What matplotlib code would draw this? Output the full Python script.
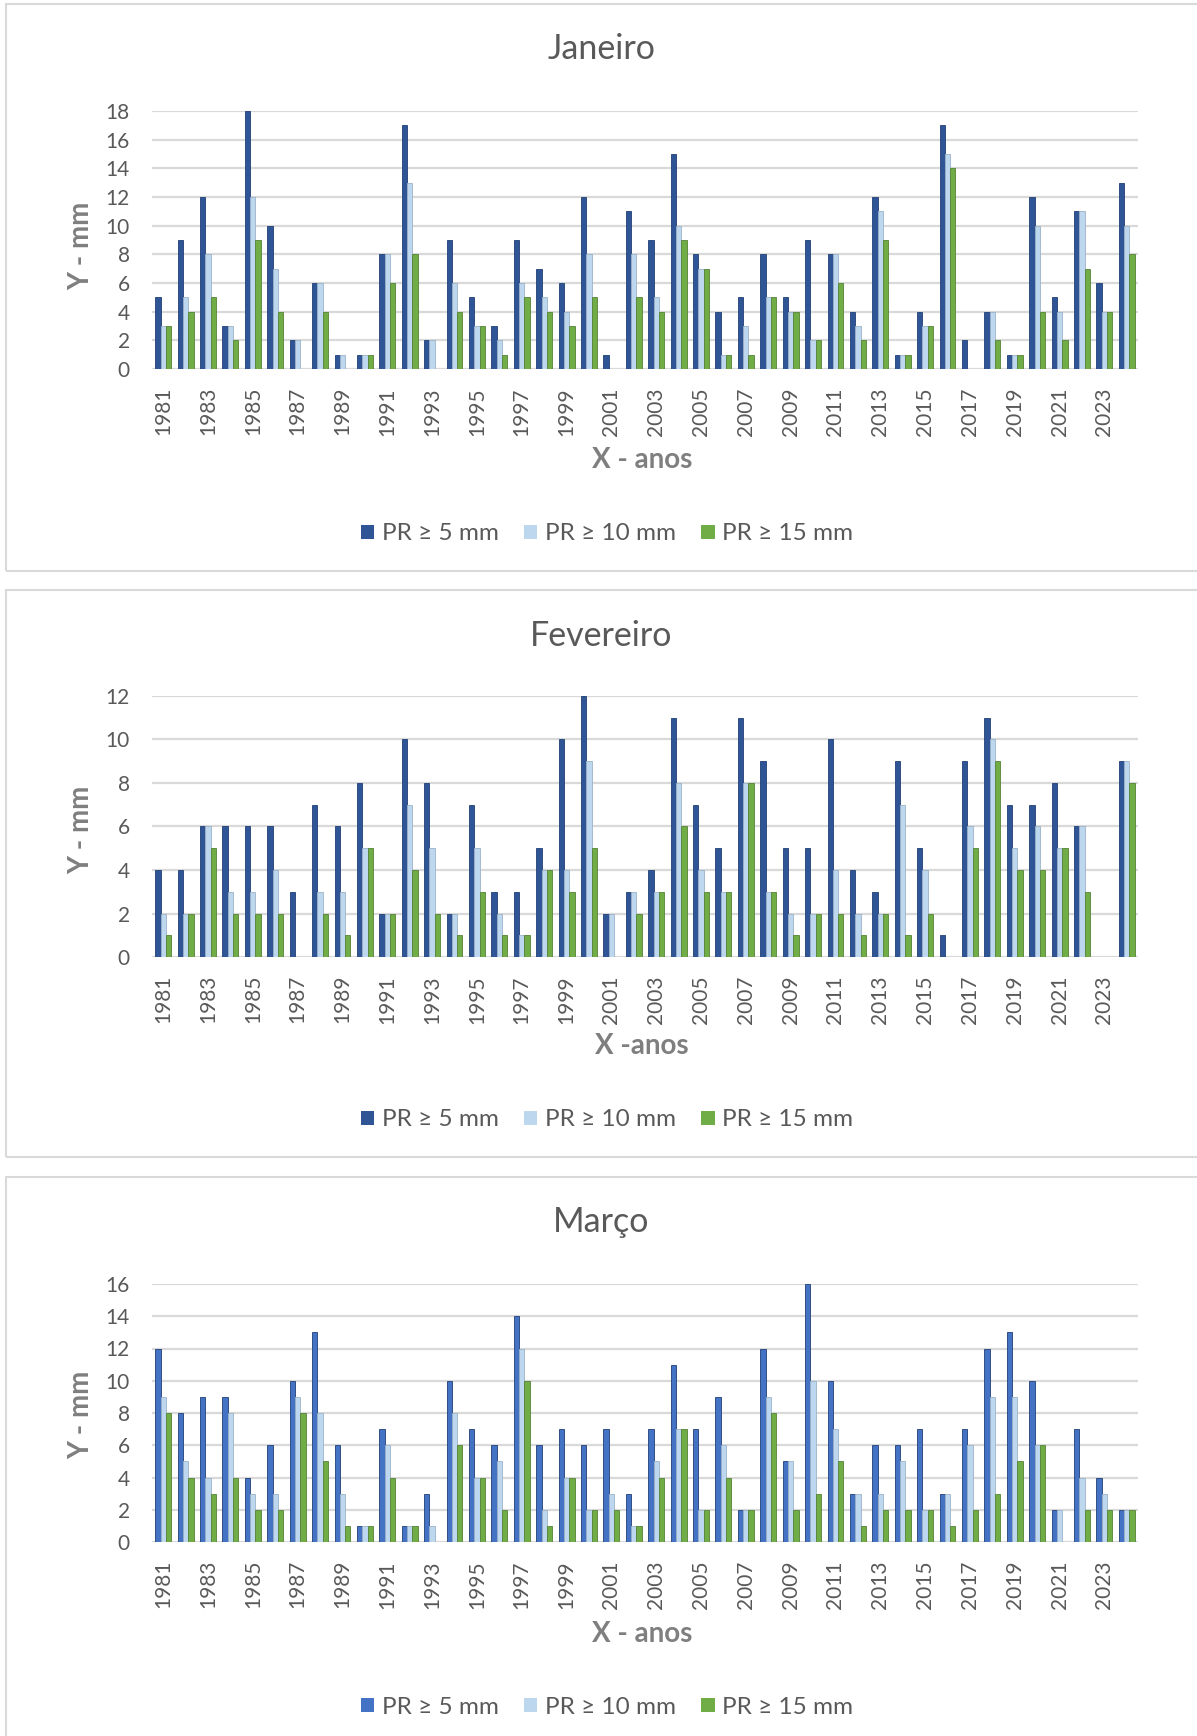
import numpy as np
import matplotlib
matplotlib.use("Agg")
import matplotlib.pyplot as plt
from matplotlib.patches import Rectangle, Patch

plt.rcParams['font.family'] = ['Lato', 'DejaVu Sans']

years = list(range(1981, 2025))

# Janeiro
jan_5 = [5, 9, 12, 3, 18, 10, 2, 6, 1, 1, 8, 17, 2, 9, 5, 3, 9, 7, 6, 12, 1, 11,
         9, 15, 8, 4, 5, 8, 5, 9, 8, 4, 12, 1, 4, 17, 2, 4, 1, 12, 5, 11, 6, 13]
jan_10 = [3, 5, 8, 3, 12, 7, 2, 6, 1, 1, 8, 13, 2, 6, 3, 2, 6, 5, 4, 8, 0, 8,
          5, 10, 7, 1, 3, 5, 4, 2, 8, 3, 11, 1, 3, 15, 0, 4, 1, 10, 4, 11, 4, 10]
jan_15 = [3, 4, 5, 2, 9, 4, 0, 4, 0, 1, 6, 8, 0, 4, 3, 1, 5, 4, 3, 5, 0, 5,
          4, 9, 7, 1, 1, 5, 4, 2, 6, 2, 9, 1, 3, 14, 0, 2, 1, 4, 2, 7, 4, 8]

# Fevereiro
fev_5 = [4, 4, 6, 6, 6, 6, 3, 7, 6, 8, 2, 10, 8, 2, 7, 3, 3, 5, 10, 12, 2, 3,
         4, 11, 7, 5, 11, 9, 5, 5, 10, 4, 3, 9, 5, 1, 9, 11, 7, 7, 8, 6, 0, 9]
fev_10 = [2, 2, 6, 3, 3, 4, 0, 3, 3, 5, 2, 7, 5, 2, 5, 2, 1, 4, 4, 9, 2, 3,
          3, 8, 4, 3, 8, 3, 2, 2, 4, 2, 2, 7, 4, 0, 6, 10, 5, 6, 5, 6, 0, 9]
fev_15 = [1, 2, 5, 2, 2, 2, 0, 2, 1, 5, 2, 4, 2, 1, 3, 1, 1, 4, 3, 5, 0, 2,
          3, 6, 3, 3, 8, 3, 1, 2, 2, 1, 2, 1, 2, 0, 5, 9, 4, 4, 5, 3, 0, 8]

# Março
mar_5 = [12, 8, 9, 9, 4, 6, 10, 13, 6, 1, 7, 1, 3, 10, 7, 6, 14, 6, 7, 6, 7, 3,
         7, 11, 7, 9, 2, 12, 5, 16, 10, 3, 6, 6, 7, 3, 7, 12, 13, 10, 2, 7, 4, 2]
mar_10 = [9, 5, 4, 8, 3, 3, 9, 8, 3, 1, 6, 1, 1, 8, 4, 5, 12, 2, 4, 2, 3, 1,
          5, 7, 2, 6, 2, 9, 5, 10, 7, 3, 3, 5, 2, 3, 6, 9, 9, 6, 2, 4, 3, 2]
mar_15 = [8, 4, 3, 4, 2, 2, 8, 5, 1, 1, 4, 1, 0, 6, 4, 2, 10, 1, 4, 2, 2, 1,
          4, 7, 2, 4, 2, 8, 2, 3, 5, 1, 2, 2, 2, 1, 2, 3, 5, 6, 0, 2, 2, 2]

labels = ['PR ≥ 5 mm', 'PR ≥ 10 mm', 'PR ≥ 15 mm']
light = '#BDD7EE'
green = '#70AD47'
text_gray = '#595959'

W, H = 1197, 1736
fig = plt.figure(figsize=(W / 100, H / 100), dpi=100)

# each panel: title, x label, data, y max, blue, and pixel positions
panels = [
    dict(title='Janeiro', xlabel='X - anos', data=(jan_5, jan_10, jan_15), ymax=18,
         blue='#2F5597', box=(6, 4, 571), ax=(111, 369), ty=49, xy=460, ly=534, yy=246),
    dict(title='Fevereiro', xlabel='X -anos', data=(fev_5, fev_10, fev_15), ymax=12,
         blue='#2F5597', box=(6, 590, 1157), ax=(696, 957), ty=636, xy=1046, ly=1120, yy=830),
    dict(title='Março', xlabel='X - anos', data=(mar_5, mar_10, mar_15), ymax=16,
         blue='#4472C4', box=(6, 1177, 1760), ax=(1284, 1542), ty=1222, xy=1634, ly=1707, yy=1415),
]

x = np.arange(len(years))
w = 0.237
left_px, right_px = 152, 1138

for p in panels:
    bx, btop, bbot = p['box']
    fig.patches.append(Rectangle((bx / W, 1 - bbot / H), (W + 20 - bx) / W, (bbot - btop) / H,
                                 transform=fig.transFigure, fill=False,
                                 edgecolor='#D9D9D9', linewidth=1.5))

    top, bot = p['ax']
    ax = fig.add_axes([left_px / W, 1 - bot / H, (right_px - left_px) / W, (bot - top) / H])
    colors = [p['blue'], light, green]
    edges = ['#1F3F75', '#9DB3C8', '#548235']
    for k, (vals, c, e) in enumerate(zip(p['data'], colors, edges)):
        ax.bar(x + (k - 1) * w, vals, w, color=c, edgecolor=e, linewidth=0.6, zorder=3)

    ax.set_xlim(-0.5, len(years) - 0.5)
    ax.set_ylim(0, p['ymax'])
    ax.set_yticks(range(0, p['ymax'] + 1, 2))
    ax.set_xticks(x[::2])
    ax.set_xticklabels([str(y) for y in years[::2]], rotation=90)
    ax.grid(axis='y', color='#D9D9D9', linewidth=1.6, zorder=0)
    ax.set_axisbelow(True)
    for s in ax.spines.values():
        s.set_visible(False)
    ax.tick_params(length=0, labelsize=15, colors=text_gray)
    ax.tick_params(axis='y', pad=16)
    ax.tick_params(axis='x', pad=13)

    fig.text(601 / W, 1 - p['ty'] / H, p['title'], ha='center', va='center',
             fontsize=24.5, color=text_gray)
    fig.text(642 / W, 1 - p['xy'] / H, p['xlabel'], ha='center', va='center',
             fontsize=20, fontweight='bold', color='#7F7F7F')
    fig.text(81 / W, 1 - p['yy'] / H, 'Y - mm', ha='center', va='center', rotation=90,
             fontsize=20, fontweight='bold', color='#7F7F7F')

    handles = [Patch(facecolor=c) for c in colors]
    fig.legend(handles, labels, loc='center', bbox_to_anchor=(607 / W, 1 - p['ly'] / H),
               ncol=3, frameon=False, fontsize=17.5, handlelength=0.55, handleheight=0.55,
               handletextpad=0.3, columnspacing=1.05, labelcolor=text_gray)

fig.savefig('out.png', dpi=100, facecolor='white')
